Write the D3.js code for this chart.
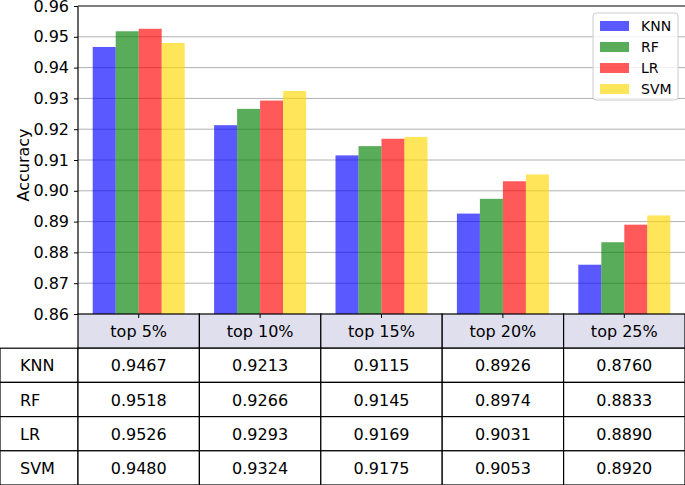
<!DOCTYPE html>
<html>
<head>
<meta charset="utf-8">
<title>Accuracy by top-k</title>
<script src="https://d3js.org/d3.v7.min.js"></script>
<style>
    body { margin: 0; background: #fff; }
    svg { font-family: "DejaVu Sans", sans-serif; }
</style>
</head>
<body>
<script>
// data
var groups = ["top 5%", "top 10%", "top 15%", "top 20%", "top 25%"];
var models = ["KNN", "RF", "LR", "SVM"];
var knn = [0.9467, 0.9213, 0.9115, 0.8926, 0.8760];
var rf  = [0.9518, 0.9266, 0.9145, 0.8974, 0.8833];
var lr  = [0.9526, 0.9293, 0.9169, 0.9031, 0.8890];
var svm = [0.9480, 0.9324, 0.9175, 0.9053, 0.8920];
var yTicks = [0.86, 0.87, 0.88, 0.89, 0.90, 0.91, 0.92, 0.93, 0.94, 0.95, 0.96];

var series = [knn, rf, lr, svm];
var colors = ["#0000ff", "#008000", "#ff0000", "#ffd700"];

var W = 685, H = 485;
var plot = { left: 78, right: 685, top: 6, bottom: 314 };
var rowH = 34.2;
var fs = 16;

var svg = d3.select("body").append("svg")
    .attr("width", W).attr("height", H);

var x = d3.scaleBand()
    .domain(groups)
    .range([plot.left, plot.right]);

var xi = d3.scaleBand()
    .domain(models)
    .range([0, 92]);

var y = d3.scaleLinear()
    .domain([0.86, 0.96])
    .range([plot.bottom, plot.top]);

// grid
svg.append("g").selectAll("line")
    .data(yTicks.slice(1, -1))
    .enter().append("line")
    .attr("x1", plot.left).attr("x2", plot.right)
    .attr("y1", function (d) { return y(d); })
    .attr("y2", function (d) { return y(d); })
    .attr("stroke", "#b0b0b0").attr("stroke-width", 1);

// bars
series.forEach(function (vals, k) {
    svg.append("g").selectAll("rect")
        .data(vals)
        .enter().append("rect")
        .attr("x", function (d, i) { return x(groups[i]) + x.bandwidth() / 2 - 46 + xi(models[k]); })
        .attr("width", xi.bandwidth())
        .attr("y", function (d) { return y(d); })
        .attr("height", function (d) { return plot.bottom - y(d); })
        .attr("fill", colors[k])
        .attr("fill-opacity", 0.65);
});

// y axis
var yAxis = d3.axisLeft(y).tickValues(yTicks).tickFormat(d3.format(".2f")).tickSize(4).tickPadding(5);
var ga = svg.append("g")
    .attr("transform", "translate(" + plot.left + ",0)")
    .call(yAxis);
ga.select(".domain").remove();
ga.selectAll("text").attr("font-size", fs).attr("fill", "#000").attr("font-family", "DejaVu Sans");

// spines
svg.append("line").attr("x1", plot.left).attr("x2", plot.left)
    .attr("y1", plot.top).attr("y2", plot.bottom).attr("stroke", "#000").attr("stroke-width", 1.2);
svg.append("line").attr("x1", plot.left).attr("x2", plot.right)
    .attr("y1", plot.top).attr("y2", plot.top).attr("stroke", "#555").attr("stroke-width", 1.5);

svg.append("text")
    .attr("transform", "translate(29," + ((plot.top + plot.bottom) / 2 + 5) + ") rotate(-90)")
    .attr("text-anchor", "middle")
    .attr("font-size", fs)
    .text("Accuracy");

// table
var tbl = svg.append("g");
tbl.selectAll("rect.hdr")
    .data(groups)
    .enter().append("rect")
    .attr("class", "hdr")
    .attr("x", function (d) { return x(d); })
    .attr("y", plot.bottom)
    .attr("width", x.bandwidth()).attr("height", rowH)
    .attr("fill", "#dfdfee").attr("stroke", "#000").attr("stroke-width", 1.2);
tbl.selectAll("text.hdr")
    .data(groups)
    .enter().append("text")
    .attr("x", function (d) { return x(d) + x.bandwidth() / 2; })
    .attr("y", plot.bottom + rowH / 2 + 6)
    .attr("text-anchor", "middle").attr("font-size", fs)
    .text(function (d) { return d; });

// x ticks into header
svg.append("g").selectAll("line")
    .data(groups)
    .enter().append("line")
    .attr("x1", function (d) { return x(d) + x.bandwidth() / 2; })
    .attr("x2", function (d) { return x(d) + x.bandwidth() / 2; })
    .attr("y1", plot.bottom).attr("y2", plot.bottom + 4)
    .attr("stroke", "#000");

models.forEach(function (m, r) {
    var ry = plot.bottom + rowH * (r + 1);
    tbl.append("rect")
        .attr("x", 0).attr("y", ry).attr("width", plot.left).attr("height", rowH)
        .attr("fill", "#fff").attr("stroke", "#000").attr("stroke-width", 1.2);
    tbl.append("text")
        .attr("x", 20).attr("y", ry + rowH / 2 + 6)
        .attr("font-size", fs).text(m);
    series[r].forEach(function (v, i) {
        tbl.append("rect")
            .attr("x", x(groups[i])).attr("y", ry)
            .attr("width", x.bandwidth()).attr("height", rowH)
            .attr("fill", "#fff").attr("stroke", "#000").attr("stroke-width", 1.2);
        tbl.append("text")
            .attr("x", x(groups[i]) + x.bandwidth() / 2).attr("y", ry + rowH / 2 + 6)
            .attr("text-anchor", "middle").attr("font-size", fs)
            .text(v.toFixed(4));
    });
});

// legend
var lg = svg.append("g").attr("transform", "translate(593,13)");
lg.append("rect").attr("width", 85).attr("height", 87).attr("rx", 3)
    .attr("fill", "#fff").attr("fill-opacity", 0.8).attr("stroke", "#ccc");
models.forEach(function (m, k) {
    lg.append("rect").attr("x", 7).attr("y", 8 + k * 21).attr("width", 29).attr("height", 10)
        .attr("fill", colors[k]).attr("fill-opacity", 0.65);
    lg.append("text").attr("x", 48).attr("y", 18 + k * 21)
        .attr("font-size", 14).text(m);
});
</script>
</body>
</html>
